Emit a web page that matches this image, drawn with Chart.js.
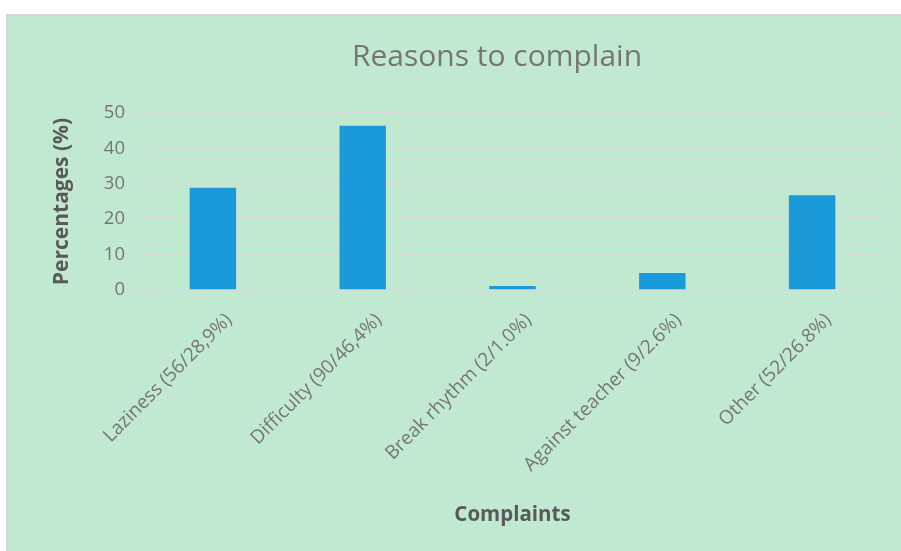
<!DOCTYPE html>
<html>
<head>
<meta charset="utf-8">
<script src="https://cdn.jsdelivr.net/npm/chart.js@4"></script>
<style>
  body { margin: 0; background: #fff; }
  .frame {
    position: absolute; left: 6px; top: 14px; width: 895px; height: 537px;
    background: #c1e8d1; border-left: 2px solid #d6d6d6; border-top: 2px solid #d6d6d6;
  }
  #myChart { display: block; }
</style>
</head>
<body>
<div class="frame"><canvas id="myChart" width="895" height="537"></canvas></div>
<script>
  const categories = [
    'Laziness (56/28,9%)', 'Difficulty (90/46,4%)', 'Break rhythm (2/1.0%)',
    'Against teacher (9/2.6%)', 'Other (52/26.8%)'
  ];
  const percentages = [28.9, 46.4, 1.1, 4.8, 26.8];
  const yTicks = [0, 10, 20, 30, 40, 50];
  const chartTitle = 'Reasons to complain';

  const fontName = "'Open Sans', 'Liberation Sans', sans-serif";

  // title is drawn by hand so it can sit a bit left of the plot centre, like Excel does
  const titlePlugin = {
    id: 'excelTitle',
    afterDraw(chart) {
      const ctx = chart.ctx;
      ctx.save();
      ctx.font = '30px ' + fontName;
      ctx.fillStyle = '#757575';
      ctx.textAlign = 'center';
      ctx.textBaseline = 'alphabetic';
      ctx.fillText(chartTitle, 489, 50);
      ctx.restore();
    }
  };

  let chartCanvas = document.getElementById('myChart');

  new Chart(chartCanvas, {
    type: 'bar',
    data: {
      labels: categories,
      datasets: [{
        label: 'Percentages',
        data: percentages,
        backgroundColor: '#1a9ad9',
        barPercentage: 0.31,
        categoryPercentage: 1
      }]
    },
    plugins: [titlePlugin],
    options: {
      responsive: false,
      animation: false,
      layout: { padding: { left: 0, right: 16, top: 97, bottom: 0 } },
      plugins: {
        legend: { display: false },
        tooltip: { enabled: false },
        title: { display: false }
      },
      scales: {
        x: {
          afterFit: axis => { axis.height = 263; },
          grid: { display: false },
          border: { display: false },
          ticks: {
            color: '#757575',
            font: { family: fontName, size: 19 },
            maxRotation: 45, minRotation: 45,
            padding: 11,
            labelOffset: 16
          },
          title: {
            display: true, text: 'Complaints', color: '#595959',
            font: { family: fontName, size: 20.5, weight: 'bold' },
            padding: { top: 4, bottom: 26 }
          }
        },
        y: {
          min: 0, max: 50,
          afterFit: axis => { axis.width = 130; },
          afterBuildTicks: axis => { axis.ticks = yTicks.map(v => ({ value: v })); },
          grid: { color: '#d9d9d9', lineWidth: 1.5, drawTicks: false },
          border: { display: false },
          ticks: {
            color: '#757575',
            font: { family: fontName, size: 18.5 },
            padding: 13
          },
          title: {
            display: true, text: 'Percentages (%)', color: '#595959',
            font: { family: fontName, size: 21, weight: 'bold' },
            padding: { top: 41, bottom: 4 }
          }
        }
      }
    }
  });
</script>
</body>
</html>
